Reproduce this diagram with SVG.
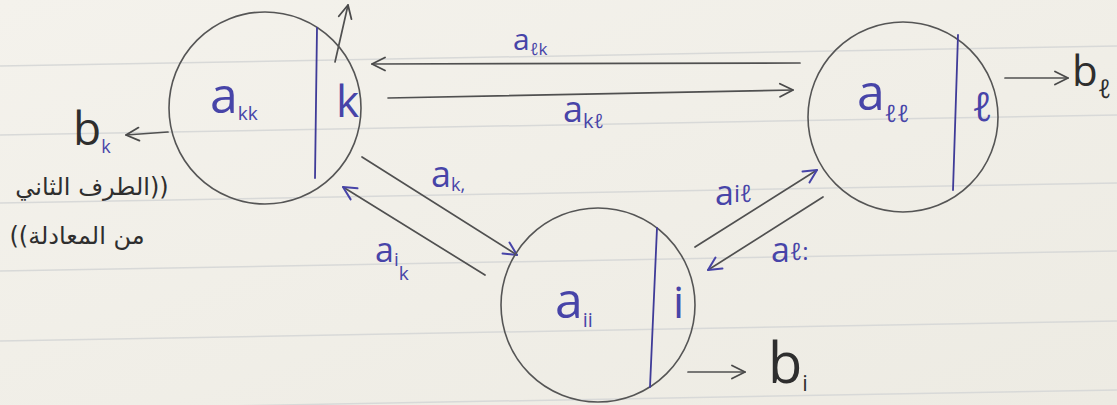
<svg xmlns="http://www.w3.org/2000/svg" width="1117" height="405" viewBox="0 0 1117 405">
<defs>
<linearGradient id="paper" x1="0" y1="0" x2="1" y2="1">
<stop offset="0" stop-color="#f4f2ec"/>
<stop offset="1" stop-color="#edebe3"/>
</linearGradient>
<marker id="hg" viewBox="0 0 16 16" refX="15" refY="8" markerWidth="16" markerHeight="16" markerUnits="userSpaceOnUse" orient="auto">
<path d="M2,1.5 L15,8 L2,14.5" fill="none" stroke="#4a4a4a" stroke-width="1.8" stroke-linecap="round" stroke-linejoin="round"/>
</marker>
<marker id="hb" viewBox="0 0 16 16" refX="15" refY="8" markerWidth="16" markerHeight="16" markerUnits="userSpaceOnUse" orient="auto">
<path d="M2,1.5 L15,8 L2,14.5" fill="none" stroke="#4744a8" stroke-width="2" stroke-linecap="round" stroke-linejoin="round"/>
</marker>
<style>
.rule{stroke:#d8d9d8;stroke-width:1.5}
.circ{fill:none;stroke:#555;stroke-width:1.6}
.div{stroke:#3f3b98;stroke-width:1.8;stroke-linecap:round}
.edge{fill:none;stroke:#505050;stroke-width:1.7;stroke-linecap:round}
.ink{fill:#4744a8;font-family:"Open Sans","DejaVu Sans",sans-serif}
.blk{fill:#2e2e2e;font-family:"Open Sans","DejaVu Sans",sans-serif}
.ar{fill:#2e2e2e;font-family:"DejaVu Sans",sans-serif;font-size:24px}
</style>
</defs>
<rect width="1117" height="405" fill="url(#paper)"/>
<g id="ruled-lines">
<line class="rule" x1="0" y1="66" x2="1117" y2="46"/>
<line class="rule" x1="0" y1="135" x2="1117" y2="115"/>
<line class="rule" x1="0" y1="203" x2="1117" y2="183"/>
<line class="rule" x1="0" y1="271" x2="1117" y2="251"/>
<line class="rule" x1="0" y1="341" x2="1117" y2="321"/>
<line class="rule" x1="0" y1="410" x2="1117" y2="390"/>
</g>
<g id="connectors">
<line class="edge" x1="800" y1="63" x2="372" y2="64" marker-end="url(#hg)"/>
<line class="edge" x1="388" y1="98" x2="793" y2="90" marker-end="url(#hg)"/>
<line class="edge" x1="362" y1="157" x2="517" y2="255" marker-end="url(#hb)"/>
<line class="edge" x1="485" y1="275" x2="343" y2="187" marker-end="url(#hb)"/>
<line class="edge" x1="695" y1="247" x2="817" y2="170" marker-end="url(#hb)"/>
<line class="edge" x1="823" y1="197" x2="708" y2="270" marker-end="url(#hb)"/>
<line class="edge" x1="335" y1="62" x2="348" y2="5" marker-end="url(#hg)"/>
<line class="edge" x1="168" y1="132" x2="126" y2="135" marker-end="url(#hg)"/>
<line class="edge" x1="1005" y1="78" x2="1068" y2="78" marker-end="url(#hg)"/>
<line class="edge" x1="688" y1="372" x2="745" y2="372" marker-end="url(#hg)"/>
<text class="ink" font-size="30" x="513" y="50">a<tspan font-size="17" dy="5">ℓk</tspan></text>
<text class="ink" font-size="36" x="563" y="122">a<tspan font-size="20" dy="6">kℓ</tspan></text>
<text class="ink" font-size="36" x="431" y="187">a<tspan font-size="18" dy="4">k,</tspan></text>
<text class="ink" font-size="34" x="375" y="262">a<tspan font-size="19" dy="4">i</tspan><tspan font-size="19" dy="14">k</tspan></text>
<text class="ink" font-size="34" x="715" y="205">a<tspan font-size="24" dy="-3">iℓ</tspan></text>
<text class="ink" font-size="34" x="771" y="262">a<tspan font-size="24" dy="-2">ℓ:</tspan></text>
</g>
<g id="node-k">
<circle class="circ" cx="265" cy="108" r="96"/>
<line class="div" x1="317" y1="28" x2="315" y2="178"/>
<text class="ink" font-size="50" x="210" y="113">a<tspan font-size="19" dy="7">kk</tspan></text>
<text class="ink" font-size="44" x="336" y="117">k</text>
<text class="blk" font-size="46" x="73" y="145">b<tspan font-size="18" dy="8" fill="#4744a8">k</tspan></text>
<text class="ar" x="92" y="195" text-anchor="middle" direction="rtl">((الطرف الثاني</text>
<text class="ar" x="77" y="244" text-anchor="middle" direction="rtl">من المعادلة))</text>
</g>
<g id="node-l">
<circle class="circ" cx="903" cy="117" r="95"/>
<line class="div" x1="958" y1="35" x2="953" y2="190"/>
<text class="ink" font-size="50" x="857" y="110">a<tspan font-size="24" dy="12">ℓℓ</tspan></text>
<text class="ink" font-size="40" x="972" y="121">ℓ</text>
<text class="blk" font-size="42" x="1072" y="86">b<tspan font-size="26" dy="12">ℓ</tspan></text>
</g>
<g id="node-i">
<circle class="circ" cx="598" cy="305" r="97"/>
<line class="div" x1="657" y1="228" x2="650" y2="387"/>
<text class="ink" font-size="50" x="555" y="318">a<tspan font-size="20" dy="9">ii</tspan></text>
<text class="ink" font-size="44" x="673" y="318">i</text>
<text class="blk" font-size="56" x="768" y="383">b<tspan font-size="22" dy="8">i</tspan></text>
</g>
</svg>
